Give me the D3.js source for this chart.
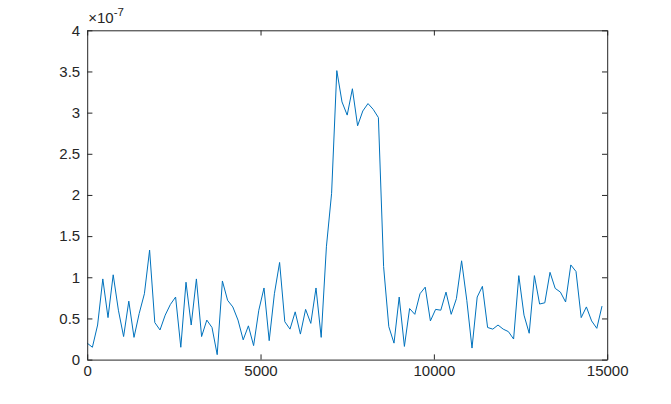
<!DOCTYPE html>
<html>
<head>
<meta charset="utf-8">
<script src="https://cdn.jsdelivr.net/npm/d3@7"></script>
<style>
  html, body { margin: 0; padding: 0; background: #fff; }
  svg { display: block; }
  text { font-family: "Liberation Sans", Arial, Helvetica, sans-serif; fill: #262626; }
</style>
</head>
<body>
<svg id="chart" width="671" height="404"></svg>
<script>
// ---- data (values in units of 1e-7) ----
const xStep = 150;
const yValues = [
  0.20, 0.15, 0.42, 0.98, 0.51, 1.03, 0.60, 0.28, 0.71, 0.27,
  0.56, 0.80, 1.33, 0.45, 0.36, 0.54, 0.67, 0.76, 0.15, 0.94,
  0.42, 0.98, 0.28, 0.48, 0.39, 0.06, 0.955, 0.72, 0.64, 0.48,
  0.24, 0.41, 0.17, 0.60, 0.87, 0.23, 0.80, 1.18, 0.46, 0.37,
  0.58, 0.31, 0.61, 0.44, 0.87, 0.27, 1.37, 2.02, 3.51, 3.13,
  2.97, 3.29, 2.84, 3.02, 3.11, 3.04, 2.94, 1.13, 0.40, 0.20,
  0.76, 0.16, 0.62, 0.55, 0.80, 0.88, 0.47, 0.61, 0.60, 0.82,
  0.55, 0.74, 1.20, 0.72, 0.14, 0.76, 0.89, 0.39, 0.37, 0.42,
  0.37, 0.34, 0.25, 1.02, 0.54, 0.32, 1.02, 0.675, 0.69, 1.06,
  0.865, 0.82, 0.70, 1.15, 1.07, 0.51, 0.64, 0.47, 0.38, 0.65
];
const xValues = yValues.map((_, i) => i * xStep);
const exponent = -7;
const xTicks = [0, 5000, 10000, 15000];
const yTicks = [0, 0.5, 1, 1.5, 2, 2.5, 3, 3.5, 4];
const xDomain = [0, 15000];
const yDomain = [0, 4];

// ---- layout ----
const M = { left: 87.2, right: 607.2, top: 30.3, bottom: 359.6 };
const axisColor = "#262626";
const lineColor = "#0072BD";
const tickLen = 5.2;
const fontSize = 15;

const svg = d3.select("#chart");
const x = d3.scaleLinear().domain(xDomain).range([M.left, M.right]);
const y = d3.scaleLinear().domain(yDomain).range([M.bottom, M.top]);

// data line
const data = xValues.map((xv, i) => ({ x: xv, y: yValues[i] }));
svg.append("path")
  .datum(data)
  .attr("fill", "none")
  .attr("stroke", lineColor)
  .attr("stroke-width", 1)
  .attr("stroke-linejoin", "round")
  .attr("d", d3.line().x(d => x(d.x)).y(d => y(d.y)));

// axes (ticks inward)
const bottomAxis = d3.axisBottom(x).tickValues(xTicks).tickSizeInner(-tickLen).tickSizeOuter(0).tickPadding(6).tickFormat(d3.format("d"));
const topAxis = d3.axisTop(x).tickValues(xTicks).tickSizeInner(-tickLen).tickSizeOuter(0).tickFormat("");
const leftAxis = d3.axisLeft(y).tickValues(yTicks).tickSizeInner(-tickLen).tickSizeOuter(0).tickPadding(7).tickFormat(d3.format(""));
const rightAxis = d3.axisRight(y).tickValues(yTicks).tickSizeInner(-tickLen).tickSizeOuter(0).tickFormat("");

function style(g) {
  g.selectAll("path.domain").attr("stroke", axisColor).attr("stroke-width", 1);
  g.selectAll(".tick line").attr("stroke", axisColor).attr("stroke-width", 1);
  g.selectAll(".tick text").attr("fill", axisColor)
    .style("font-family", '"Liberation Sans", Arial, sans-serif')
    .style("font-size", fontSize + "px");
}

svg.append("g").attr("transform", `translate(0,${M.bottom})`).call(bottomAxis).call(style);
svg.append("g").attr("transform", `translate(0,${M.top})`).call(topAxis).call(style);
svg.append("g").attr("transform", `translate(${M.left},0)`).call(leftAxis).call(style);
svg.append("g").attr("transform", `translate(${M.right},0)`).call(rightAxis).call(style);

// exponent label
const expLabel = svg.append("text")
  .attr("x", M.left + 1)
  .attr("y", M.top - 7)
  .style("font-size", "15px");
expLabel.append("tspan").text("\u00d710");
expLabel.append("tspan").attr("dy", -7).style("font-size", "11.5px").text(String(exponent));
</script>
</body>
</html>
